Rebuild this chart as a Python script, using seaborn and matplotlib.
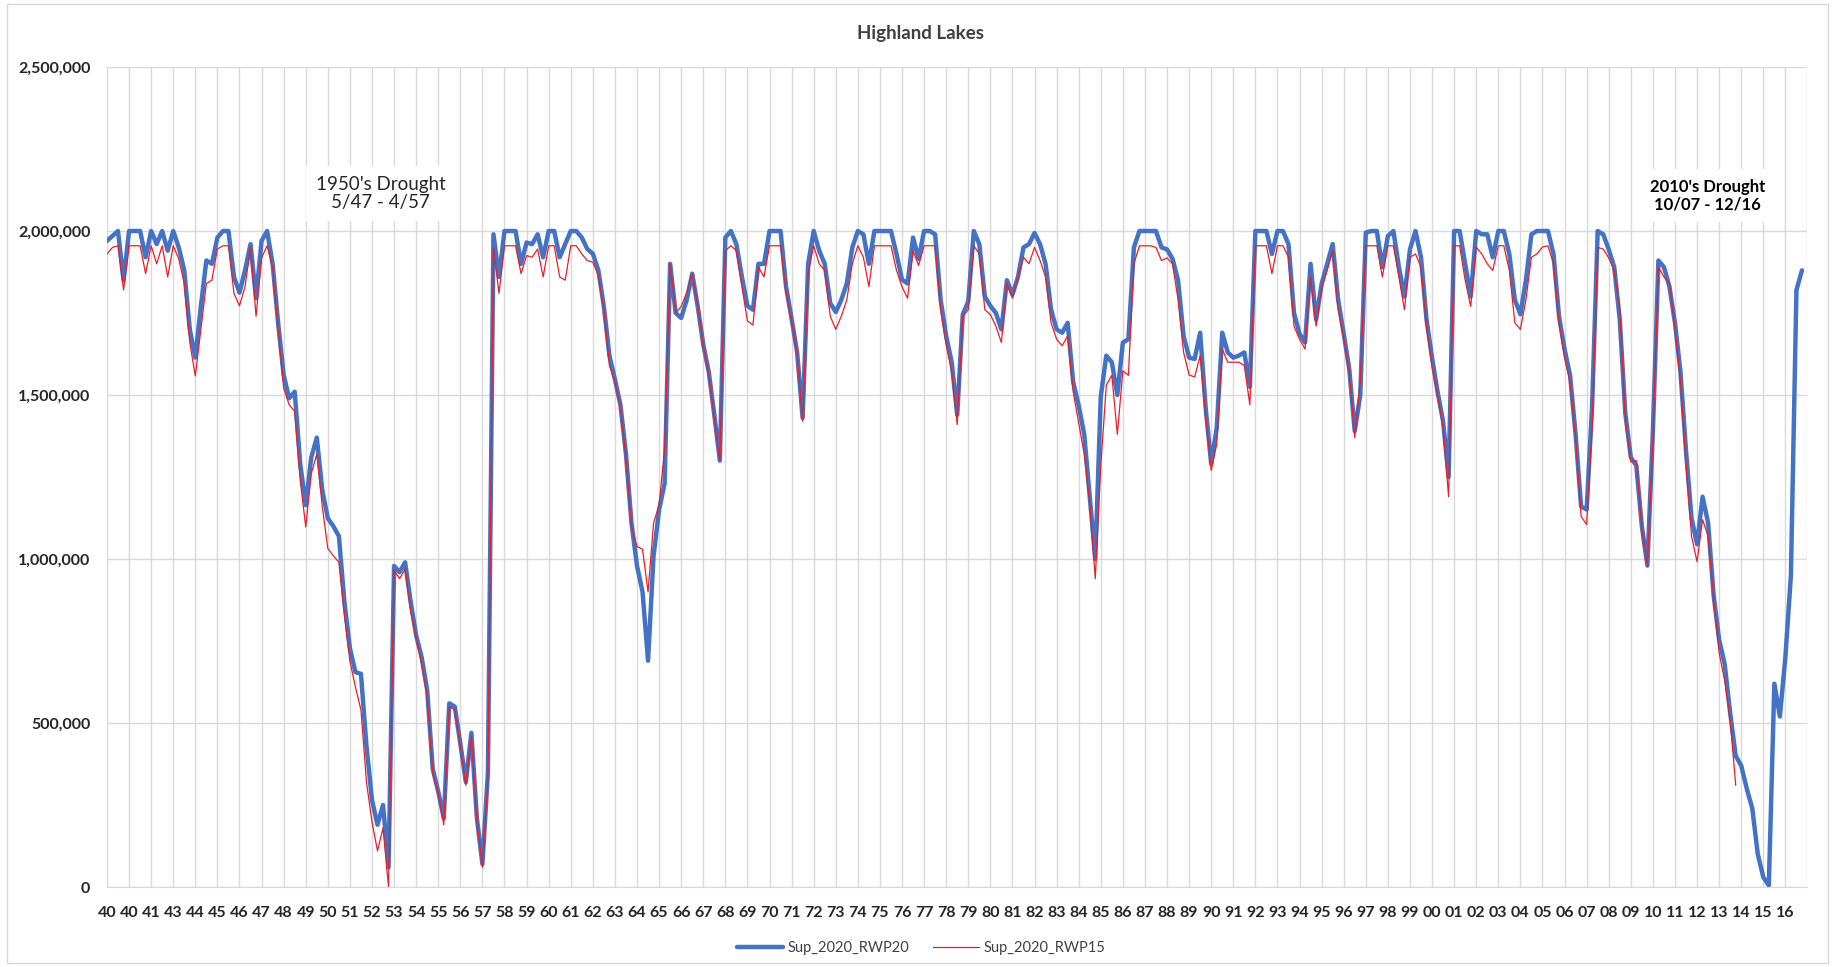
"""Highland Lakes combined storage, two supply scenarios (quarterly readings)."""
import numpy as np
import pandas as pd
import matplotlib
matplotlib.use("Agg")
import matplotlib.pyplot as plt
from matplotlib.ticker import FuncFormatter
import seaborn as sns

# storage in thousand acre-feet, one value per quarter (Jan, Apr, Jul, Oct), 1940 onwards
rwp20_kaf = [
    1970, 1985, 2000, 1850,  2000, 2000, 2000, 1920,  2000, 1960, 2000, 1940,  2000, 1950, 1880, 1700,
    1614, 1770, 1910, 1900,  1980, 2000, 2000, 1860,  1812, 1880, 1960, 1795,  1970, 2000, 1900, 1720,
    1561, 1490, 1510, 1290,  1164, 1310, 1370, 1210,  1124, 1100, 1070, 870,   728, 655, 650, 430,
    265, 190, 250, 60,       979, 960, 990, 870,      767, 700, 600, 360,      291, 210, 560, 550,
    437, 320, 470, 210,      70, 350, 1990, 1860,     2000, 2000, 2000, 1900,  1965, 1960, 1990, 1920,
    2000, 2000, 1920, 1960,  2000, 2000, 1980, 1945,  1931, 1880, 1770, 1620,  1548, 1470, 1320, 1110,
    979, 900, 690, 1010,     1150, 1230, 1900, 1750,  1735, 1790, 1870, 1770,  1654, 1570, 1440, 1300,
    1980, 2000, 1960, 1860,  1772, 1760, 1900, 1900,  2000, 2000, 2000, 1830,  1733, 1630, 1430, 1900,
    2000, 1940, 1900, 1780,  1753, 1790, 1840, 1950,  2000, 1990, 1900, 2000,  2000, 2000, 2000, 1930,
    1852, 1840, 1980, 1915,  2000, 2000, 1990, 1790,  1680, 1600, 1440, 1745,  1786, 2000, 1960, 1800,
    1772, 1750, 1700, 1850,  1806, 1860, 1950, 1960,  1994, 1960, 1900, 1760,  1700, 1690, 1720, 1540,
    1468, 1380, 1190, 1000,  1495, 1620, 1600, 1500,  1660, 1670, 1950, 2000,  2000, 2000, 2000, 1950,
    1944, 1915, 1850, 1680,  1614, 1610, 1690, 1460,  1290, 1400, 1690, 1630,  1614, 1620, 1630, 1525,
    2000, 2000, 2000, 1930,  2000, 2000, 1960, 1750,  1687, 1660, 1900, 1730,  1839, 1900, 1960, 1790,
    1687, 1580, 1390, 1500,  1995, 2000, 2000, 1890,  1985, 2000, 1890, 1800,  1944, 2000, 1920, 1730,
    1614, 1510, 1420, 1250,  2000, 2000, 1900, 1800,  2000, 1990, 1990, 1920,  2000, 2000, 1930, 1790,
    1746, 1850, 1990, 2000,  2000, 2000, 1930, 1740,  1640, 1560, 1380, 1160,  1151, 1470, 2000, 1990,
    1944, 1890, 1730, 1445,  1310, 1285, 1100, 980,   1389, 1910, 1890, 1830,  1720, 1570, 1330, 1125,
    1045, 1190, 1110, 890,   754, 680, 530, 400,     370, 300, 240, 100,      30, 5, 620, 520,
    701, 950, 1820, 1880,
]
rwp15_kaf = [
    1930, 1950, 1955, 1820,  1955, 1955, 1955, 1870,  1955, 1900, 1955, 1860,  1955, 1915, 1840, 1660,
    1558, 1700, 1840, 1850,  1945, 1955, 1955, 1810,  1772, 1830, 1950, 1740,  1918, 1955, 1890, 1700,
    1521, 1470, 1450, 1240,  1098, 1260, 1320, 1160,  1032, 1010, 990, 830,    688, 610, 540, 320,
    198, 110, 180, 0,        966, 940, 970, 840,      760, 680, 580, 350,      285, 190, 550, 540,
    430, 310, 460, 200,      60, 330, 1950, 1810,     1955, 1955, 1955, 1870,  1925, 1920, 1945, 1860,
    1955, 1955, 1860, 1850,  1955, 1955, 1930, 1910,  1905, 1865, 1760, 1590,  1540, 1460, 1310, 1100,
    1038, 1030, 900, 1110,   1164, 1336, 1900, 1750,  1770, 1812, 1870, 1775,  1650, 1565, 1430, 1300,
    1940, 1955, 1940, 1830,  1726, 1713, 1890, 1860,  1955, 1955, 1955, 1815,  1725, 1625, 1420, 1870,
    1955, 1900, 1880, 1740,  1700, 1740, 1790, 1900,  1955, 1920, 1830, 1955,  1955, 1955, 1955, 1880,
    1830, 1795, 1940, 1895,  1955, 1955, 1955, 1760,  1653, 1570, 1410, 1740,  1760, 1955, 1930, 1760,
    1745, 1710, 1660, 1840,  1795, 1860, 1920, 1900,  1950, 1910, 1860, 1720,  1670, 1650, 1680, 1510,
    1415, 1320, 1170, 940,   1283, 1530, 1560, 1380,  1574, 1560, 1900, 1955,  1955, 1955, 1950, 1910,
    1918, 1900, 1790, 1630,  1561, 1555, 1620, 1440,  1270, 1350, 1640, 1600,  1600, 1600, 1590, 1470,
    1955, 1955, 1955, 1870,  1955, 1955, 1920, 1710,  1670, 1640, 1860, 1710,  1825, 1880, 1940, 1760,
    1675, 1570, 1370, 1540,  1955, 1955, 1955, 1860,  1955, 1955, 1860, 1760,  1920, 1930, 1890, 1710,
    1587, 1500, 1400, 1190,  1955, 1955, 1850, 1770,  1951, 1930, 1900, 1880,  1955, 1955, 1880, 1720,
    1700, 1790, 1920, 1930,  1951, 1955, 1900, 1720,  1614, 1540, 1370, 1130,  1105, 1400, 1950, 1945,
    1918, 1880, 1760, 1430,  1296, 1300, 1090, 980,   1362, 1890, 1860, 1840,  1705, 1540, 1290, 1070,
    992, 1120, 1070, 880,    714, 630, 510, 310,
]
year_labels = ["40", "40", "41", "43"] + [f"{y % 100:02d}" for y in range(1944, 2017)]

sns.set_style("white")
plt.rcParams["font.family"] = ["Lato", "DejaVu Sans"]

blue = "#4472C4"
red = "#EE1C25"
grid = "#D9D9D9"
text = "#262626"

df = pd.concat([
    pd.DataFrame({"month": np.arange(len(rwp20_kaf)) * 3,
                  "storage": np.array(rwp20_kaf) * 1000.0, "series": "Sup_2020_RWP20"}),
    pd.DataFrame({"month": np.arange(len(rwp15_kaf)) * 3,
                  "storage": np.array(rwp15_kaf) * 1000.0, "series": "Sup_2020_RWP15"}),
])

fig = plt.figure(figsize=(18.35, 9.67), dpi=100)
ax = fig.add_axes([0.0583, 0.0827, 0.9267, 0.848])
sns.lineplot(data=df, x="month", y="storage", hue="series", size="series",
             palette={"Sup_2020_RWP20": blue, "Sup_2020_RWP15": red},
             sizes={"Sup_2020_RWP20": 3.2, "Sup_2020_RWP15": 0.9},
             estimator=None, sort=False, ax=ax, legend=False)
for line, z in zip(ax.lines, [3, 4]):
    line.set_zorder(z)

ax.set_xlim(0, 924)
ax.set_ylim(0, 2500000)
ax.set_xticks(np.arange(0, 925, 12))
ax.set_xticklabels(year_labels + [""])
ax.set_yticks(np.arange(0, 2500001, 500000))
ax.yaxis.set_major_formatter(FuncFormatter(lambda v, _: f"{v:,.0f}"))
ax.grid(True, color=grid, linewidth=1.0)
ax.set_axisbelow(True)
for side in ["top", "right", "left"]:
    ax.spines[side].set_visible(False)
ax.spines["bottom"].set_color(grid)
ax.tick_params(axis="both", length=0, labelsize=11.5, colors=text, pad=14)
ax.tick_params(axis="y", pad=12)
for lab in ax.get_xticklabels() + ax.get_yticklabels():
    lab.set_fontweight("bold")
ax.set_xlabel("")
ax.set_ylabel("")

fig.text(0.5015, 0.965, "Highland Lakes", ha="center", va="center",
         fontsize=13.5, fontweight="bold", color="#404040")

box = dict(facecolor="white", edgecolor="none", pad=7)
ax.text(0.161, 0.846, "1950's Drought\n5/47 - 4/57", transform=ax.transAxes,
        ha="center", va="center", fontsize=13.5, color=text, linespacing=1.1, bbox=box, zorder=5)
ax.text(0.941, 0.843, "2010's Drought\n10/07 - 12/16", transform=ax.transAxes,
        ha="center", va="center", fontsize=12, fontweight="bold", color="black",
        linespacing=1.15, bbox=box, zorder=5)

handles = [plt.Line2D([], [], color=blue, linewidth=3.2),
           plt.Line2D([], [], color=red, linewidth=0.9)]
fig.legend(handles, ["Sup_2020_RWP20", "Sup_2020_RWP15"], loc="center",
           bbox_to_anchor=(0.502, 0.02), ncol=2, frameon=False, fontsize=10.5,
           handlelength=3.2, handletextpad=0.3, columnspacing=1.6, labelcolor="#404040")

fig.patches.append(plt.Rectangle((0.004, 0.004), 0.992, 0.992, transform=fig.transFigure,
                                 fill=False, edgecolor=grid, linewidth=1.0))
fig.savefig("out.png", dpi=100)
